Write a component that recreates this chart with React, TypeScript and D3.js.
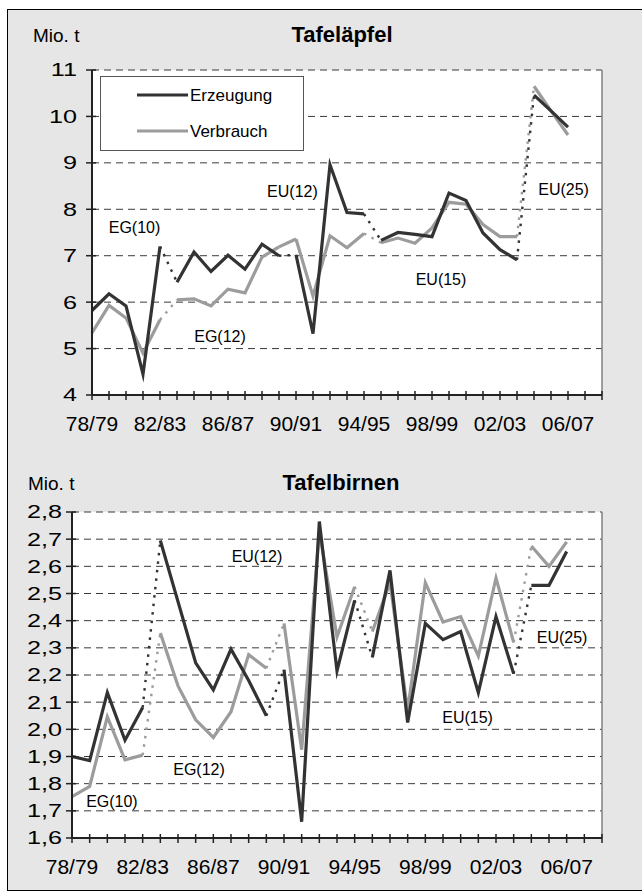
import React from "react";
import * as d3 from "d3";

// ---------- data ----------
const categories = [
  "78/79", "79/80", "80/81", "81/82", "82/83", "83/84", "84/85", "85/86",
  "86/87", "87/88", "88/89", "89/90", "90/91", "91/92", "92/93", "93/94",
  "94/95", "95/96", "96/97", "97/98", "98/99", "99/00", "00/01", "01/02",
  "02/03", "03/04", "04/05", "05/06", "06/07", "07/08", "08/09",
];
const shownCategoryLabels = ["78/79", "82/83", "86/87", "90/91", "94/95", "98/99", "02/03", "06/07"];

const seriesNames = ["Erzeugung", "Verbrauch"];

// Tafeläpfel (Mio. t)
const applesYTicks = [4, 5, 6, 7, 8, 9, 10, 11];
const applesProduction = [
  5.82, 6.18, 5.92, 4.45, 7.2, 6.43, 7.08, 6.66, 7.01, 6.71, 7.25, 7.0, 7.02, 5.32,
  8.96, 7.93, 7.9, 7.33, 7.5, 7.46, 7.41, 8.35, 8.19, 7.49, 7.13, 6.91, 10.46, 10.12, 9.77,
];
const applesConsumption = [
  5.34, 5.93, 5.66, 4.9, 5.62, 6.05, 6.07, 5.92, 6.28, 6.2, 6.97, 7.19, 7.36, 6.13,
  7.43, 7.17, 7.48, 7.28, 7.38, 7.27, 7.6, 8.15, 8.11, 7.67, 7.41, 7.41, 10.65, 10.12, 9.6,
];

// Tafelbirnen (Mio. t)
const pearsYTicks = [1.6, 1.7, 1.8, 1.9, 2.0, 2.1, 2.2, 2.3, 2.4, 2.5, 2.6, 2.7, 2.8];
const pearsProduction = [
  1.9, 1.885, 2.135, 1.96, 2.08, 2.695, 2.47, 2.245, 2.145, 2.295, 2.18, 2.05, 2.22,
  1.66, 2.765, 2.215, 2.475, 2.265, 2.585, 2.025, 2.39, 2.33, 2.36, 2.135, 2.415,
  2.205, 2.53, 2.53, 2.655,
];
const pearsConsumption = [
  1.752, 1.79, 2.046, 1.888, 1.905, 2.355, 2.16, 2.035, 1.97, 2.065, 2.275, 2.225,
  2.39, 1.925, 2.73, 2.34, 2.525, 2.36, 2.54, 2.07, 2.54, 2.395, 2.415, 2.27, 2.557,
  2.32, 2.675, 2.6, 2.69,
];

// Gebietsstand (first and last category index of each period)
const periodStarts = [0, 5, 12, 17, 26];
const periodEnds = [4, 11, 16, 25, 28];

// period annotations: [text, category position, value]
const applesPeriodLabels: [string, number, number][] = [
  ["EG(10)", 2.5, 7.49],
  ["EG(12)", 7.53, 5.14],
  ["EU(12)", 11.79, 8.27],
  ["EU(15)", 20.53, 6.37],
  ["EU(25)", 27.74, 8.31],
];
const pearsPeriodLabels: [string, number, number][] = [
  ["EG(10)", 2.26, 1.715],
  ["EG(12)", 7.19, 1.833],
  ["EU(12)", 10.47, 2.616],
  ["EU(15)", 22.39, 2.024],
  ["EU(25)", 27.74, 2.318],
];

// ---------- styles ----------
const FONT = "'Liberation Sans', Arial, Helvetica, sans-serif";
const DARK = "#333333";
const GRAY = "#9c9c9c";

type ChartProps = {
  left: number;
  right: number;
  top: number;
  bottom: number;
  yTicks: number[];
  fmt: (v: number) => string;
  production: number[];
  consumption: number[];
  solidJoinsConsumption: number[];
  periodLabels: [string, number, number][];
  title: string;
  titleX: number;
  titleY: number;
  unitX: number;
  yLabelGap: number;
  legend: boolean;
};

function Chart(p: ChartProps) {
  const x = d3.scaleLinear().domain([0, categories.length - 1]).range([p.left, p.right]);
  const y = d3
    .scaleLinear()
    .domain([d3.min(p.yTicks)!, d3.max(p.yTicks)!])
    .range([p.bottom, p.top]);
  const line = d3
    .line<[number, number]>()
    .x((d) => x(d[0]))
    .y((d) => y(d[1]));

  const segs = (vals: number[]) =>
    periodStarts.map((s, k) =>
      d3.range(s, periodEnds[k] + 1).map((i) => [i, vals[i]] as [number, number])
    );
  const joins = (vals: number[]) =>
    periodEnds.slice(0, -1).map((e, k) => ({
      from: e,
      pts: [
        [e, vals[e]],
        [periodStarts[k + 1], vals[periodStarts[k + 1]]],
      ] as [number, number][],
    }));

  const series = [
    { vals: p.consumption, color: GRAY, solid: p.solidJoinsConsumption },
    { vals: p.production, color: DARK, solid: [] as number[] },
  ];

  return (
    <g fontFamily={FONT}>
      {/* plot area */}
      <rect x={p.left} y={p.top} width={p.right - p.left} height={p.bottom - p.top} fill="#ffffff" />
      {/* gridlines */}
      {p.yTicks.slice(1).map((t) => (
        <line
          key={"g" + t}
          x1={p.left}
          x2={p.right}
          y1={y(t)}
          y2={y(t)}
          stroke="#3a3a3a"
          strokeWidth={1}
          strokeDasharray="7 5"
        />
      ))}
      {/* right border */}
      <line x1={p.right} x2={p.right} y1={p.top} y2={p.bottom} stroke="#808080" strokeWidth={1.5} />

      {/* title, unit */}
      <text x={p.titleX} y={p.titleY} textAnchor="middle" fontSize={22} fontWeight="bold" fill="#000">
        {p.title}
      </text>
      <text x={p.unitX} y={p.titleY} fontSize={19} fill="#000">
        Mio. t
      </text>

      {/* lines: dotted joins */}
      {series.map((s, si) =>
        joins(s.vals).map((j, ji) =>
          s.solid.includes(j.from) ? (
            <path key={"j" + si + ji} d={line(j.pts)!} fill="none" stroke={s.color} strokeWidth={3.2} />
          ) : (
            <path
              key={"j" + si + ji}
              d={line(j.pts)!}
              fill="none"
              stroke={s.color}
              strokeWidth={2.4}
              strokeDasharray="2.5 6"
            />
          )
        )
      )}
      {/* lines: solid segments */}
      {series.map((s, si) =>
        segs(s.vals).map((sg, gi) => (
          <path
            key={"s" + si + gi}
            d={line(sg)!}
            fill="none"
            stroke={s.color}
            strokeWidth={3.2}
            strokeLinejoin="miter"
            strokeMiterlimit={6}
          />
        ))
      )}

      {/* period labels */}
      {p.periodLabels.map(([t, cx, v]) => (
        <text key={t} x={x(cx)} y={y(v)} textAnchor="middle" fontSize={16} fill="#000">
          {t}
        </text>
      ))}

      {/* y axis */}
      <line x1={p.left} x2={p.left} y1={p.top} y2={p.bottom} stroke="#222" strokeWidth={2} />
      {p.yTicks.map((t) => (
        <g key={"yt" + t}>
          <line x1={p.left - 6} x2={p.left + 4} y1={y(t)} y2={y(t)} stroke="#222" strokeWidth={1.5} />
          <text
            transform={`translate(${p.left - p.yLabelGap},${y(t)}) scale(1.4,1)`}
            dy="0.36em"
            textAnchor="end"
            fontSize={18}
            fill="#000"
          >
            {p.fmt(t)}
          </text>
        </g>
      ))}

      {/* x axis */}
      <line x1={p.left} x2={p.right} y1={p.bottom} y2={p.bottom} stroke="#222" strokeWidth={2} />
      {categories.map((c, i) => (
        <line key={"xt" + c} x1={x(i)} x2={x(i)} y1={p.bottom - 4} y2={p.bottom + 5} stroke="#222" strokeWidth={1.5} />
      ))}
      {categories.map((c, i) =>
        shownCategoryLabels.includes(c) ? (
          <text key={"xl" + c} x={x(i)} y={p.bottom + 36} textAnchor="middle" fontSize={21} fill="#000">
            {c}
          </text>
        ) : null
      )}

      {/* legend */}
      {p.legend && (
        <g>
          <rect x={100.5} y={76.5} width={203} height={74} fill="#fff" stroke="#555" strokeWidth={1} />
          {[DARK, GRAY].map((col, k) => (
            <g key={col}>
              <line x1={137} x2={188} y1={95 + k * 36} y2={95 + k * 36} stroke={col} strokeWidth={3.2} />
              <text x={190} y={95 + k * 36} dy="0.36em" fontSize={17} fill="#000">
                {seriesNames[k]}
              </text>
            </g>
          ))}
        </g>
      )}
    </g>
  );
}

export default function App() {
  return (
    <svg
      width={642}
      height={892}
      style={{ position: "absolute", left: 0, top: 0, display: "block" }}
    >
      <rect x={0} y={0} width={642} height={892} fill="#ffffff" />
      <rect x={7.5} y={9.5} width={700} height={881} fill="#e6e6e6" stroke="#000" strokeWidth={1} />
      <Chart
        left={92}
        right={602}
        top={70}
        bottom={395}
        yTicks={applesYTicks}
        fmt={(v) => d3.format("d")(v)}
        production={applesProduction}
        consumption={applesConsumption}
        solidJoinsConsumption={[11]}
        periodLabels={applesPeriodLabels}
        title="Tafeläpfel"
        titleX={342}
        titleY={42}
        unitX={33}
        yLabelGap={15}
        legend={true}
      />
      <Chart
        left={72}
        right={602}
        top={512}
        bottom={838}
        yTicks={pearsYTicks}
        fmt={(v) => d3.format(".1f")(v).replace(".", ",")}
        production={pearsProduction}
        consumption={pearsConsumption}
        solidJoinsConsumption={[]}
        periodLabels={pearsPeriodLabels}
        title="Tafelbirnen"
        titleX={341}
        titleY={490}
        unitX={28}
        yLabelGap={10}
        legend={false}
      />
    </svg>
  );
}
